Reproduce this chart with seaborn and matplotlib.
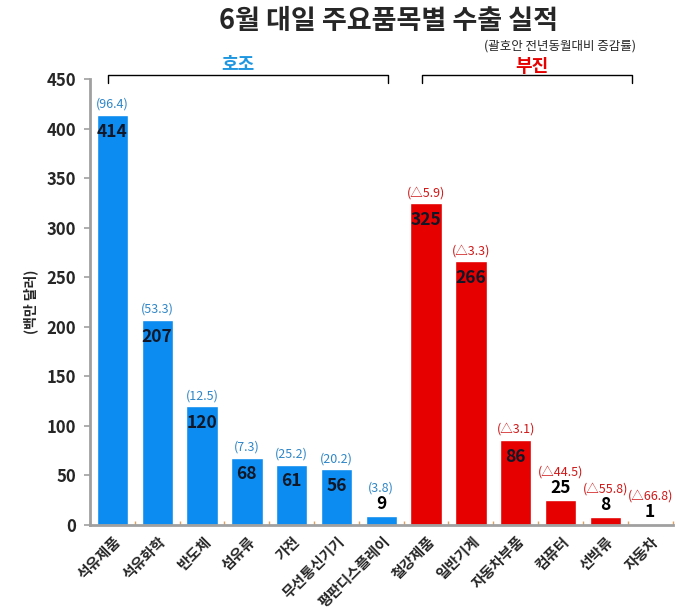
import numpy as np
import matplotlib
matplotlib.use('Agg')
import matplotlib.pyplot as plt
import seaborn as sns

# 6월 대일 주요품목별 수출 실적 (백만 달러)
items = ['석유제품', '석유화학', '반도체', '섬유류', '가전', '무선통신기기', '평판디스플레이',
         '철강제품', '일반기계', '자동차부품', '컴퓨터', '선박류', '자동차']
exports = [414, 207, 120, 68, 61, 56, 9, 325, 266, 86, 25, 8, 1]
growth = ['(96.4)', '(53.3)', '(12.5)', '(7.3)', '(25.2)', '(20.2)', '(3.8)',
          '(△5.9)', '(△3.3)', '(△3.1)', '(△44.5)', '(△55.8)', '(△66.8)']
group = ['호조'] * 7 + ['부진'] * 6

BLUE = '#0C8CF0'
RED = '#E60000'
BLUE_TXT = '#2E86C8'
RED_TXT = '#D01818'

sns.set_theme(style='white')
plt.rcParams['font.family'] = ['Noto Sans CJK KR', 'DejaVu Sans']

fig = plt.figure(figsize=(6.79, 6.14), dpi=100)
ax = fig.add_axes([0.1325, 0.145, 0.858, 0.726])

palette = [BLUE if g == '호조' else RED for g in group]
sns.barplot(x=items, y=exports, hue=items, palette=palette, legend=False,
            width=0.7, saturation=1, ax=ax)

ax.set_ylim(0, 450)
ax.set_xlim(-0.5, len(items) - 0.5)
ax.set_yticks(np.arange(0, 451, 50))
ax.set_yticklabels([str(v) for v in range(0, 451, 50)], fontsize=12, fontweight='bold')
ax.set_xticks(range(len(items)))
ax.set_xticklabels(items, rotation=45, ha='right', rotation_mode='anchor',
                   fontsize=10.5, fontweight='bold')
ax.tick_params(axis='x', length=0, pad=6)
ax.tick_params(axis='y', left=True, length=4, color='#A0A0A0', width=1.2, pad=6)
ax.set_xticks(np.arange(-0.5, len(items), 1), minor=True)
ax.tick_params(axis='x', which='minor', bottom=True, direction='in', length=3,
               color='#E0A060', width=1)

for s in ['top', 'right']:
    ax.spines[s].set_visible(False)
for s in ['left', 'bottom']:
    ax.spines[s].set_color('#A0A0A0')
    ax.spines[s].set_linewidth(2)

ax.set_ylabel('(백만 달러)', fontsize=10, fontweight='bold', labelpad=6)

# value and growth labels
for i, (v, g, grp) in enumerate(zip(exports, growth, group)):
    tc = BLUE_TXT if grp == '호조' else RED_TXT
    if v >= 50:
        ax.text(i, v - 17, str(v), ha='center', va='center', fontsize=12.5,
                fontweight='bold', color='#101828')
        ax.text(i, v + 4, g, ha='center', va='bottom', fontsize=9, color=tc)
    else:
        ax.text(i, v + 3, str(v), ha='center', va='bottom', fontsize=12.5,
                fontweight='bold', color='black')
        ax.text(i, v + 22, g, ha='center', va='bottom', fontsize=9, color=tc)

# group brackets
def bracket(x0, x1, label, color, lx, ly):
    ax.plot([x0, x0, x1, x1], [446, 454, 454, 446], color='black', lw=1,
            clip_on=False)
    ax.text(lx, ly, label, ha='center', va='center', fontsize=13,
            fontweight='bold', color=color, clip_on=False)

bracket(-0.1, 6.15, '호조', '#1E96E0', 2.8, 466)
bracket(6.9, 11.6, '부진', RED, 9.35, 463)

fig.text(0.572, 0.966, '6월 대일 주요품목별 수출 실적', ha='center', va='center',
         fontsize=19.5, fontweight='bold')
fig.text(0.825, 0.925, '(괄호안 전년동월대비 증감률)', ha='center', va='center',
         fontsize=9)

plt.savefig('out.png', dpi=100)
plt.close()
